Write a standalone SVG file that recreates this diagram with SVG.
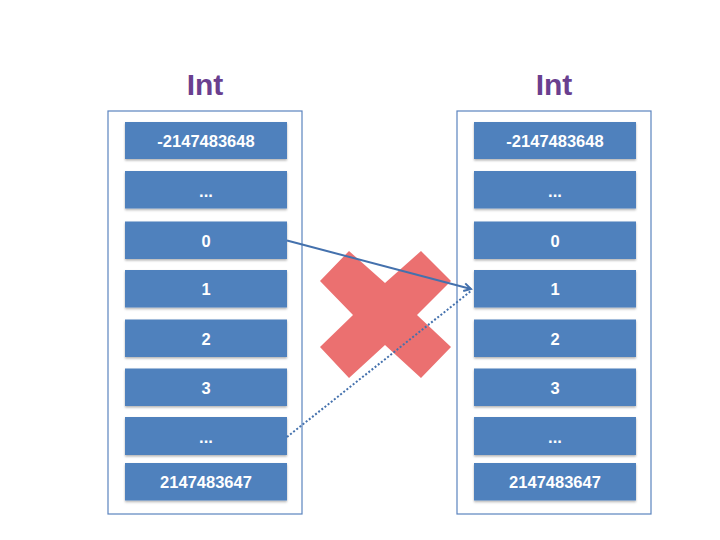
<svg xmlns="http://www.w3.org/2000/svg" width="720" height="540" viewBox="0 0 720 540">
<style>
.title{font-family:"Liberation Sans",Arial,sans-serif;font-weight:bold;font-size:30px;fill:#6a3f8f;text-anchor:middle}
.cont{fill:#ffffff;stroke:#5b84bf;stroke-width:1.2}
.box{fill:#4f81bd}
.lbl{font-family:"Liberation Sans",Arial,sans-serif;font-weight:bold;font-size:16.5px;fill:#ffffff;text-anchor:middle}
.link{stroke:#4471ad;stroke-width:2;fill:none}
</style>
<defs>
<filter id="sh" x="-5%" y="-10%" width="110%" height="130%">
<feDropShadow dx="0" dy="1.5" stdDeviation="1" flood-color="#000" flood-opacity="0.3"/>
</filter>
<marker id="arr" viewBox="0 0 10 10" refX="8" refY="5" markerWidth="5" markerHeight="5" orient="auto" markerUnits="strokeWidth">
<path d="M1,1 L8,5 L1,9" fill="none" stroke="#4471ad" stroke-width="2"/>
</marker>
</defs>
<rect width="720" height="540" fill="#ffffff"/>

<g id="left">
<text class="title" x="205" y="95">Int</text>
<rect class="cont" x="108" y="111" width="194" height="403"/>
<g filter="url(#sh)">
<rect class="box" x="125" y="122" width="162" height="37"/>
<rect class="box" x="125" y="171" width="162" height="37.5"/>
<rect class="box" x="125" y="221.5" width="162" height="37.5"/>
<rect class="box" x="125" y="270" width="162" height="37.5"/>
<rect class="box" x="125" y="319.5" width="162" height="37.5"/>
<rect class="box" x="125" y="368.5" width="162" height="37.5"/>
<rect class="box" x="125" y="417" width="162" height="38"/>
<rect class="box" x="125" y="463" width="162" height="37.5"/>
</g>
<text class="lbl" x="206" y="147">-2147483648</text>
<text class="lbl" x="206" y="196.5">...</text>
<text class="lbl" x="206" y="246.5">0</text>
<text class="lbl" x="206" y="295">1</text>
<text class="lbl" x="206" y="344.5">2</text>
<text class="lbl" x="206" y="393.5">3</text>
<text class="lbl" x="206" y="442.5">...</text>
<text class="lbl" x="206" y="488">2147483647</text>
</g>

<g id="right">
<text class="title" x="554" y="95">Int</text>
<rect class="cont" x="457" y="111" width="194" height="403"/>
<g filter="url(#sh)">
<rect class="box" x="474" y="122" width="162" height="37"/>
<rect class="box" x="474" y="171" width="162" height="37.5"/>
<rect class="box" x="474" y="221.5" width="162" height="37.5"/>
<rect class="box" x="474" y="270" width="162" height="37.5"/>
<rect class="box" x="474" y="319.5" width="162" height="37.5"/>
<rect class="box" x="474" y="368.5" width="162" height="37.5"/>
<rect class="box" x="474" y="417" width="162" height="38"/>
<rect class="box" x="474" y="463" width="162" height="37.5"/>
</g>
<text class="lbl" x="555" y="147">-2147483648</text>
<text class="lbl" x="555" y="196.5">...</text>
<text class="lbl" x="555" y="246.5">0</text>
<text class="lbl" x="555" y="295">1</text>
<text class="lbl" x="555" y="344.5">2</text>
<text class="lbl" x="555" y="393.5">3</text>
<text class="lbl" x="555" y="442.5">...</text>
<text class="lbl" x="555" y="488">2147483647</text>
</g>

<g id="cross">
<polygon points="349,251 385,283 421,251 451,281 417,315 451,347 421,378 385,345 349,378 320,347 353,315 320,281" fill="#eb7070"/>
</g>

<g id="connectors">
<line class="link" x1="287" y1="240.5" x2="471" y2="289" marker-end="url(#arr)"/>
<line class="link" x1="287" y1="437" x2="471" y2="291" stroke-dasharray="2 2"/>
</g>
</svg>
